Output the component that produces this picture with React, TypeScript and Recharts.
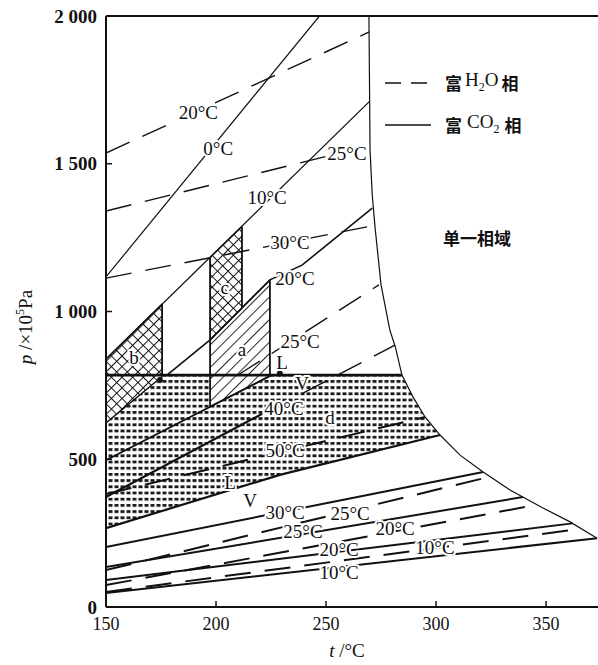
import { ComposedChart, Line, Area, Scatter, XAxis, YAxis, ReferenceLine } from "recharts";

const SERIF = '"Liberation Serif", "DejaVu Serif", serif';
const CJK = '"Noto Sans CJK SC", sans-serif';

const xTicks = [150, 200, 250, 300, 350];
const yTicks = [0, 500, 1000, 1500, 2000];
const yTickText = ["0", "500", "1 000", "1 500", "2 000"];

// edge of the two-phase field (single phase to the right)
const boundary = [
  [269.5, 2000], [270, 1547], [271, 1394], [272.3, 1283], [275, 1090], [279, 937],
  [281.5, 880], [284.5, 785], [289.5, 711], [295, 643], [301.8, 582], [310.9, 514],
  [321.4, 457], [333.6, 396], [348.6, 335], [360.9, 288], [373.2, 233],
];

// upper isotherms
const h2o20Top = [[150, 1536], [269.6, 1946]];
const co2_0 = [[150, 1117], [247, 2000]];
const h2o25Top = [[150, 1340], [270.1, 1562]];
const co2_10 = [[150, 839], [269.9, 1712]];
const h2o30 = [[150, 1113], [271.2, 1290]];
const co2_20 = [[177.7, 785], [197.3, 904], [224.5, 1107], [239.1, 1157], [271, 1350]];
const h2o25Mid = [[210, 785], [274, 1090]];

// three-phase line and the stippled field
const tieLine = [[150, 785], [284.5, 785]];
const lineA = [[150, 497], [225.4, 785]];
const co2_40 = [[150, 372], [221, 654]];
const h2o40 = [[239.5, 724], [281.3, 886]];
const h2o50 = [[150, 382], [295, 643]];
const lineC = [[150, 267], [229, 447], [301.8, 582]];

// lower bundle
const co2_30 = [[150, 203], [321.4, 457]];
const h2o25Low = [[150, 125], [324.5, 441]];
const co2_25 = [[150, 135], [339.5, 372]];
const h2o20Low = [[150, 74], [346, 346]];
const co2_20Low = [[150, 91], [362, 283]];
const h2o10 = [[150, 51], [366, 265]];
const co2_10Low = [[150, 47], [373.2, 233]];

// shaded fields: [t, low, high]
const stippleBand = [[150, 267, 785], [229, 447, 785], [284.5, 550, 785], [289.5, 559, 711], [295, 569, 643], [301.8, 582, 582]];
const boxB = [[150, 623, 839], [175.5, 780, 1025]];
const boxA = [[197.3, 678, 904], [224.5, 782, 1107]];
const boxC = [[197.3, 904, 1183], [211.8, 1012, 1288]];
const boxEdges = [
  [[175.5, 780], [175.5, 1025]],
  [[197.3, 678], [197.3, 1183]],
  [[211.8, 1012], [211.8, 1288]],
  [[224.5, 782], [224.5, 1107]],
];

const markers = [[174.5, 768], [229, 790]];

const labels = [
  { t: 192, p: 1672, text: "20°C" },
  { t: 201, p: 1553, text: "0°C" },
  { t: 259.5, p: 1536, text: "25°C" },
  { t: 223.2, p: 1387, text: "10°C" },
  { t: 233.6, p: 1232, text: "30°C" },
  { t: 235.9, p: 1113, text: "20°C" },
  { t: 238.2, p: 897, text: "25°C" },
  { t: 204, p: 1080, text: "c" },
  { t: 211.8, p: 870, text: "a" },
  { t: 162.7, p: 846, text: "b" },
  { t: 251.8, p: 640, text: "d" },
  { t: 230.9, p: 673, text: "40°C" },
  { t: 231.4, p: 531, text: "50°C" },
  { t: 206.4, p: 420, text: "L" },
  { t: 215.5, p: 362, text: "V" },
  { t: 239.1, p: 758, text: "V" },
  { t: 230, p: 829, text: "L" },
  { t: 231.4, p: 321, text: "30°C" },
  { t: 260.9, p: 318, text: "25°C" },
  { t: 239.5, p: 257, text: "25°C" },
  { t: 281.4, p: 267, text: "20°C" },
  { t: 255.9, p: 193, text: "20°C" },
  { t: 299.5, p: 203, text: "10°C" },
  { t: 255.9, p: 118, text: "10°C" },
  { t: 318.6, p: 1249, text: "单一相域", cjk: true },
];

const series = [
  { id: "boundary", pts: boundary, dash: false, w: 1.2 },
  { id: "h2o20Top", pts: h2o20Top, dash: true, w: 1.4 },
  { id: "co2_0", pts: co2_0, dash: false, w: 1.2 },
  { id: "h2o25Top", pts: h2o25Top, dash: true, w: 1.4 },
  { id: "co2_10", pts: co2_10, dash: false, w: 1.3 },
  { id: "h2o30", pts: h2o30, dash: true, w: 1.4 },
  { id: "co2_20", pts: co2_20, dash: false, w: 1.6 },
  { id: "h2o25Mid", pts: h2o25Mid, dash: true, w: 1.4 },
  { id: "tieLine", pts: tieLine, dash: false, w: 2.8 },
  { id: "lineA", pts: lineA, dash: false, w: 1.8 },
  { id: "co2_40", pts: co2_40, dash: false, w: 2.2 },
  { id: "h2o40", pts: h2o40, dash: true, w: 1.5 },
  { id: "h2o50", pts: h2o50, dash: true, w: 2 },
  { id: "lineC", pts: lineC, dash: false, w: 2.2 },
  { id: "co2_30", pts: co2_30, dash: false, w: 2 },
  { id: "h2o25Low", pts: h2o25Low, dash: true, w: 2 },
  { id: "co2_25", pts: co2_25, dash: false, w: 2 },
  { id: "h2o20Low", pts: h2o20Low, dash: true, w: 2 },
  { id: "co2_20Low", pts: co2_20Low, dash: false, w: 2 },
  { id: "h2o10", pts: h2o10, dash: true, w: 2 },
  { id: "co2_10Low", pts: co2_10Low, dash: false, w: 2 },
];

const toPts = (a: number[][]) => a.map(([t, p]) => ({ t, p }));
const toBand = (a: number[][]) => a.map(([t, lo, hi]) => ({ t, r: [lo, hi] }));

const LabelShape = (props: any) => {
  const { cx, cy, payload } = props;
  return (
    <text
      x={cx}
      y={cy}
      textAnchor="middle"
      dominantBaseline="central"
      fontFamily={payload.cjk ? CJK : SERIF}
      fontSize={payload.cjk ? 17 : 19}
      fontWeight={payload.cjk ? 700 : 400}
      fill="#111"
      stroke="#fff"
      strokeWidth={4}
      strokeLinejoin="round"
      paintOrder="stroke"
    >
      {payload.text}
    </text>
  );
};

const DotShape = (props: any) => <circle cx={props.cx} cy={props.cy} r={3} fill="#111" />;

export default function App() {
  return (
    <div style={{ position: "absolute", left: 0, top: 0, width: 598, height: 665, background: "#fff" }}>
      <ComposedChart width={598} height={665} margin={{ top: 16, right: 0, left: 0, bottom: 0 }}>
        <defs>
          <pattern id="cross" width="7.5" height="7.5" patternUnits="userSpaceOnUse" patternTransform="rotate(45)">
            <rect width="7.5" height="7.5" fill="#fff" />
            <path d="M0 0 L0 7.5 M0 0 L7.5 0" stroke="#111" strokeWidth="2" />
          </pattern>
          <pattern id="hatch" width="8" height="8" patternUnits="userSpaceOnUse" patternTransform="rotate(45)">
            <rect width="8" height="8" fill="#fff" />
            <line x1="0" y1="0" x2="0" y2="8" stroke="#111" strokeWidth="1.8" />
          </pattern>
          <pattern id="stipple" width="6" height="6.2" patternUnits="userSpaceOnUse">
            <rect x="0.5" y="1.8" width="4" height="2.8" fill="#1a1a1a" />
          </pattern>
        </defs>
        <XAxis
          type="number"
          dataKey="t"
          domain={[150, 373.6]}
          allowDataOverflow
          ticks={xTicks}
          interval={0}
          height={58}
          tickSize={-6}
          tickMargin={16}
          axisLine={{ stroke: "#111", strokeWidth: 2 }}
          tickLine={{ stroke: "#111", strokeWidth: 1.5 }}
          tick={{ fontFamily: SERIF, fontSize: 18, fill: "#111" }}
        />
        <YAxis
          type="number"
          domain={[0, 2000]}
          allowDataOverflow
          ticks={yTicks}
          interval={0}
          width={106}
          tickSize={-6}
          tickMargin={15}
          tickFormatter={(v: number) => yTickText[yTicks.indexOf(v)]}
          axisLine={{ stroke: "#111", strokeWidth: 2 }}
          tickLine={{ stroke: "#111", strokeWidth: 1.5 }}
          tick={{ fontFamily: SERIF, fontSize: 19, fontWeight: 700, fill: "#111" }}
        />
        <ReferenceLine y={2000} stroke="#111" strokeWidth={2} />

        <Area data={toBand(stippleBand)} dataKey="r" type="linear" stroke="none" fill="url(#stipple)" fillOpacity={1} isAnimationActive={false} />
        <Area data={toBand(boxB)} dataKey="r" type="linear" stroke="#111" strokeWidth={1.4} fill="url(#cross)" fillOpacity={1} isAnimationActive={false} />
        <Area data={toBand(boxA)} dataKey="r" type="linear" stroke="#111" strokeWidth={1.4} fill="url(#hatch)" fillOpacity={1} isAnimationActive={false} />
        <Area data={toBand(boxC)} dataKey="r" type="linear" stroke="#111" strokeWidth={1.4} fill="url(#cross)" fillOpacity={1} isAnimationActive={false} />

        {series.map((s) => (
          <Line
            key={s.id}
            data={toPts(s.pts)}
            dataKey="p"
            type="linear"
            stroke="#111"
            strokeWidth={s.w}
            strokeDasharray={s.dash ? "26 14" : undefined}
            dot={false}
            activeDot={false}
            isAnimationActive={false}
          />
        ))}
        {boxEdges.map((e, i) => (
          <Line key={"edge" + i} data={toPts(e)} dataKey="p" type="linear" stroke="#111" strokeWidth={1.8} dot={false} activeDot={false} isAnimationActive={false} />
        ))}

        <Scatter data={toPts(markers)} dataKey="p" shape={DotShape} isAnimationActive={false} />
        <Scatter data={labels} dataKey="p" shape={LabelShape} isAnimationActive={false} />
      </ComposedChart>

      {/* legend */}
      <div style={{ position: "absolute", left: 385, top: 70, fontSize: 17, color: "#111", lineHeight: "26px" }}>
        <div style={{ display: "flex", alignItems: "center", height: 26 }}>
          <svg width={50} height={6}>
            <line x1={0} y1={3} x2={44} y2={3} stroke="#111" strokeWidth={1.6} strokeDasharray="16 10" />
          </svg>
          <span style={{ marginLeft: 10, fontFamily: CJK, fontWeight: 700 }}>富</span>
          <span style={{ fontFamily: SERIF, fontSize: 19, marginLeft: 3 }}>
            H<sub style={{ fontSize: 12 }}>2</sub>O
          </span>
          <span style={{ fontFamily: CJK, fontWeight: 700, marginLeft: 3 }}>相</span>
        </div>
        <div style={{ display: "flex", alignItems: "center", height: 26, marginTop: 16 }}>
          <svg width={50} height={6}>
            <line x1={0} y1={3} x2={46} y2={3} stroke="#111" strokeWidth={1.3} />
          </svg>
          <span style={{ marginLeft: 10, fontFamily: CJK, fontWeight: 700 }}>富</span>
          <span style={{ fontFamily: SERIF, fontSize: 19, marginLeft: 5 }}>
            CO<sub style={{ fontSize: 12 }}>2</sub>
          </span>
          <span style={{ fontFamily: CJK, fontWeight: 700, marginLeft: 5 }}>相</span>
        </div>
      </div>

      {/* axis titles */}
      <div
        style={{
          position: "absolute",
          left: 25,
          top: 327,
          transform: "translate(-50%, -50%) rotate(-90deg)",
          fontFamily: SERIF,
          fontSize: 19,
          whiteSpace: "nowrap",
          color: "#111",
        }}
      >
        <i>p</i> /×10<sup style={{ fontSize: 12 }}>5</sup>Pa
      </div>
      <div
        style={{
          position: "absolute",
          left: 347,
          top: 651,
          transform: "translate(-50%, -50%)",
          fontFamily: SERIF,
          fontSize: 19,
          whiteSpace: "nowrap",
          color: "#111",
        }}
      >
        <i>t</i> /°C
      </div>
    </div>
  );
}
